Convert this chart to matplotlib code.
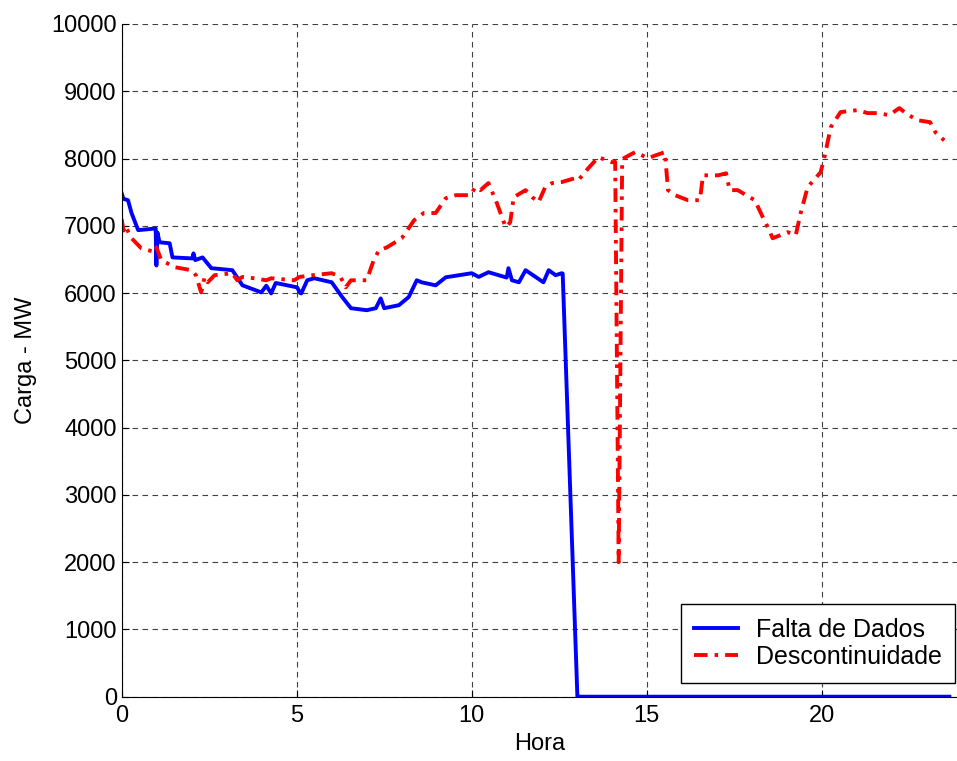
import matplotlib
matplotlib.use('Agg')
import matplotlib.pyplot as plt

plt.rcParams['font.family'] = ['Liberation Sans', 'DejaVu Sans']

# curva com falta de dados (hora, MW)
hora_falta = [0, 0.05, 0.18, 0.28, 0.47, 0.97, 0.99, 1.02, 1.08, 1.37,
              1.45, 2.02, 2.05, 2.1, 2.31, 2.56, 3.16, 3.45, 3.99, 4.13,
              4.27, 4.4, 5.01, 5.1, 5.13, 5.3, 5.5, 6.0, 6.3, 6.55,
              7.0, 7.26, 7.4, 7.5, 7.92, 8.2, 8.43, 8.57, 8.97, 9.26,
              9.45, 10.0, 10.2, 10.48, 11.0, 11.05, 11.15, 11.35, 11.54, 12.05,
              12.2, 12.4, 12.57, 12.6, 13.02, 23.65]
carga_falta = [7480, 7400, 7380, 7190, 6935, 6960, 6410, 6900, 6755, 6740,
               6530, 6515, 6590, 6490, 6530, 6370, 6340, 6115, 6010, 6110,
               5995, 6150, 6085, 6000, 5995, 6190, 6220, 6160, 5940, 5775,
               5745, 5775, 5920, 5775, 5820, 5940, 6190, 6160, 6115, 6235,
               6250, 6295, 6240, 6310, 6230, 6370, 6190, 6160, 6340, 6160,
               6340, 6265, 6295, 6290, 0, 0]

# curva com descontinuidade (hora, MW)
hora_desc = [0, 0.05, 0.1, 0.28, 0.56, 0.95, 0.99, 1.13, 1.51, 1.99,
             2.12, 2.27, 2.37, 2.46, 2.65, 3.16, 3.3, 3.45, 3.79, 4.13,
             4.27, 4.93, 5.08, 5.45, 6.0, 6.25, 6.4, 6.55, 7.0, 7.2,
             7.35, 7.58, 8.0, 8.2, 8.35, 8.63, 8.97, 9.26, 9.55, 9.97,
             10.1, 10.25, 10.48, 10.72, 10.97, 11.1, 11.2, 11.54, 11.73, 11.91,
             12.1, 12.3, 12.57, 12.97, 13.05, 13.33, 13.62, 14.0, 14.1, 14.2,
             14.3, 14.4, 14.67, 15.04, 15.27, 15.52, 15.61, 15.81, 16.18, 16.52,
             16.61, 17.04, 17.27, 17.37, 17.6, 18.09, 18.32, 18.46, 18.6, 19.03,
             19.26, 19.4, 19.6, 19.97, 20.08, 20.26, 20.54, 21.03, 21.31, 21.6,
             21.93, 22.22, 22.4, 22.73, 23.1, 23.25, 23.5]
carga_desc = [7100, 6930, 7000, 6815, 6665, 6610, 6680, 6490, 6385, 6340,
              6265, 6010, 6240, 6160, 6265, 6295, 6190, 6240, 6220, 6190,
              6220, 6190, 6240, 6265, 6295, 6240, 6085, 6190, 6190, 6490,
              6635, 6680, 6815, 6965, 7080, 7190, 7190, 7410, 7455, 7455,
              7575, 7530, 7635, 7335, 6980, 7050, 7425, 7530, 7425, 7350,
              7575, 7635, 7650, 7710, 7680, 7855, 8020, 7945, 7950, 2000,
              7990, 8020, 8095, 8005, 8050, 8095, 7530, 7455, 7380, 7380,
              7750, 7750, 7780, 7530, 7530, 7380, 7125, 6980, 6815, 6905,
              6860, 7190, 7575, 7795, 8020, 8465, 8690, 8720, 8675, 8675,
              8645, 8750, 8675, 8570, 8540, 8390, 8270]

legendas = ['Falta de Dados', 'Descontinuidade']
xticks = [0, 5, 10, 15, 20]
yticks = list(range(0, 10001, 1000))

fig = plt.figure(figsize=(9.57, 7.61), dpi=100)
ax = fig.add_axes([0.1272, 0.0845, 0.874, 0.884])

ax.plot(hora_falta, carga_falta, color='blue', lw=2.8, label=legendas[0])
ax.plot(hora_desc, carga_desc, color='red', lw=2.8, dashes=(3.5, 1.8, 0.9, 1.8),
        label=legendas[1])

ax.set_xlim(0, 23.9)
ax.set_ylim(0, 10000)
ax.set_xticks(xticks)
ax.set_yticks(yticks)
ax.tick_params(direction='in', length=5, labelsize=17, width=0.8)
ax.tick_params(axis='x', pad=6)
ax.grid(True, color='0.25', lw=0.8, dashes=(5, 4))

ax.spines['top'].set_visible(False)
ax.spines['right'].set_visible(False)

ax.set_xlabel('Hora', fontsize=17, labelpad=4)
ax.set_ylabel('Carga - MW', fontsize=17, labelpad=10)

leg = ax.legend(loc='lower right', bbox_to_anchor=(0.9964, 0.0204),
                borderaxespad=0, fontsize=18, fancybox=False,
                edgecolor='black', framealpha=1, handlelength=1.75,
                handletextpad=0.7, borderpad=0.55, labelspacing=0.12)
leg.get_frame().set_linewidth(1.0)

fig.savefig('out.png', dpi=100)
